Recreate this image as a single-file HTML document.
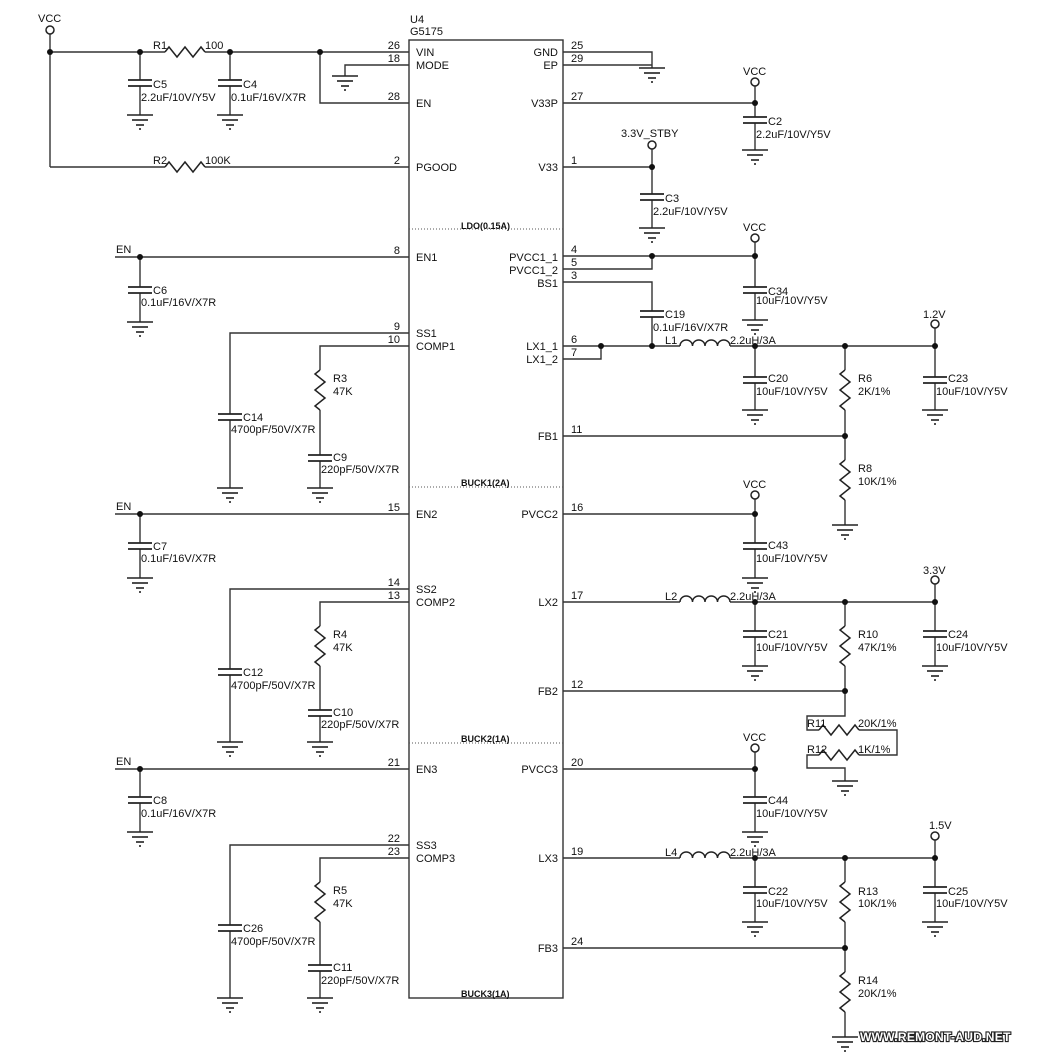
<!DOCTYPE html>
<html><head><meta charset="utf-8"><style>
html,body{margin:0;padding:0;background:#fff;}
svg{display:block;}
text{font-family:"Liberation Sans",Arial,sans-serif;font-size:11px;fill:#111;}
.b{font-weight:bold;font-size:9px;}
</style></head><body>
<svg width="1037" height="1052" viewBox="0 0 1037 1052" xmlns="http://www.w3.org/2000/svg">
<defs>
<g id="g" stroke="#222" stroke-width="1.6" fill="none"><line x1="-13" y1="0" x2="13" y2="0"/><line x1="-8" y1="5" x2="8" y2="5"/><line x1="-4" y1="10" x2="4" y2="10"/><line x1="-1" y1="14" x2="1" y2="14"/></g>
<g id="c"><rect x="-12" y="-3" width="24" height="6" fill="#fff"/><line x1="-12" y1="-3" x2="12" y2="-3" stroke="#222" stroke-width="1.8"/><line x1="-12" y1="3" x2="12" y2="3" stroke="#222" stroke-width="1.8"/></g>
<g id="rh"><rect x="-20" y="-6" width="40" height="12" fill="#fff"/><polyline points="-20,0 -16,-5 -8,5 0,-5 8,5 16,-5 20,0" fill="none" stroke="#222" stroke-width="1.5"/></g>
<g id="rv"><rect x="-6" y="-20" width="12" height="40" fill="#fff"/><polyline points="0,-20 -5,-16 5,-8 -5,0 5,8 -5,16 0,20" fill="none" stroke="#222" stroke-width="1.5"/></g>
<g id="l"><rect x="0" y="-8" width="50" height="10" fill="#fff"/><path d="M0,0 a6.25,6 0 0 1 12.5,0 a6.25,6 0 0 1 12.5,0 a6.25,6 0 0 1 12.5,0 a6.25,6 0 0 1 12.5,0" fill="none" stroke="#222" stroke-width="1.5"/></g>
<circle id="d" r="3" fill="#111"/>
<circle id="o" r="4" fill="#fff" stroke="#222" stroke-width="1.5"/>
</defs>

<g stroke="#333" stroke-width="1.4" fill="none">
<rect x="409" y="40" width="154" height="958"/>
</g>
<g stroke="#555" stroke-width="1" stroke-dasharray="1,2">
<line x1="409" y1="229" x2="563" y2="229"/><line x1="409" y1="487" x2="563" y2="487"/><line x1="409" y1="743" x2="563" y2="743"/>
</g>

<g stroke="#333" stroke-width="1.4" fill="none">
<line x1="50" y1="34" x2="50" y2="167"/>
<line x1="50" y1="52" x2="409" y2="52"/>
<line x1="50" y1="167" x2="409" y2="167"/>
<line x1="140" y1="52" x2="140" y2="115"/>
<line x1="230" y1="52" x2="230" y2="115"/>
<polyline points="320,52 320,103 409,103"/>
<polyline points="409,65 345,65 345,76"/>
<line x1="115" y1="257" x2="409" y2="257"/><line x1="140" y1="257" x2="140" y2="322"/>
<polyline points="409,333 230,333 230,488"/>
<polyline points="409,346 320,346 320,488"/>
<line x1="115" y1="514" x2="409" y2="514"/><line x1="140" y1="514" x2="140" y2="578"/>
<polyline points="409,589 230,589 230,742"/>
<polyline points="409,602 320,602 320,742"/>
<line x1="115" y1="769" x2="409" y2="769"/><line x1="140" y1="769" x2="140" y2="832"/>
<polyline points="409,845 230,845 230,998"/>
<polyline points="409,858 320,858 320,998"/>
<polyline points="563,52 652,52 652,68"/><line x1="563" y1="65" x2="652" y2="65"/>
<line x1="563" y1="103" x2="755" y2="103"/><line x1="755" y1="86" x2="755" y2="150"/>
<line x1="563" y1="167" x2="652" y2="167"/><line x1="652" y1="149" x2="652" y2="228"/>
<line x1="563" y1="256" x2="755" y2="256"/><polyline points="563,269 652,269 652,256"/>
<line x1="755" y1="242" x2="755" y2="320"/>
<polyline points="563,282 652,282 652,346"/>
<line x1="563" y1="346" x2="935" y2="346"/><polyline points="563,359 601,359 601,346"/>
<line x1="935" y1="328" x2="935" y2="410"/><line x1="755" y1="346" x2="755" y2="410"/>
<line x1="845" y1="346" x2="845" y2="525"/><line x1="563" y1="436" x2="845" y2="436"/>
<line x1="563" y1="514" x2="755" y2="514"/><line x1="755" y1="499" x2="755" y2="578"/>
<line x1="563" y1="602" x2="935" y2="602"/><line x1="935" y1="584" x2="935" y2="666"/>
<line x1="755" y1="602" x2="755" y2="666"/>
<polyline points="845,602 845,716 807,716 807,730 897,730 897,755 807,755 807,768 845,768 845,781"/>
<line x1="563" y1="691" x2="845" y2="691"/>
<line x1="563" y1="769" x2="755" y2="769"/><line x1="755" y1="752" x2="755" y2="832"/>
<line x1="563" y1="858" x2="935" y2="858"/><line x1="935" y1="840" x2="935" y2="922"/>
<line x1="755" y1="858" x2="755" y2="922"/>
<line x1="845" y1="858" x2="845" y2="1037"/><line x1="563" y1="948" x2="845" y2="948"/>
</g>

<use href="#rh" x="185" y="52"/><use href="#rh" x="185" y="167"/>
<use href="#c" x="140" y="83"/><use href="#c" x="230" y="83"/>
<use href="#c" x="755" y="120"/><use href="#c" x="652" y="197"/>
<use href="#c" x="755" y="290"/><use href="#c" x="652" y="314"/>
<use href="#c" x="755" y="380"/><use href="#c" x="935" y="380"/>
<use href="#rv" x="845" y="390"/><use href="#rv" x="845" y="480"/>
<use href="#l" x="680" y="346"/><use href="#l" x="680" y="602"/><use href="#l" x="680" y="858"/>
<use href="#c" x="755" y="546"/><use href="#c" x="755" y="634"/><use href="#c" x="935" y="634"/>
<use href="#rv" x="845" y="646"/>
<use href="#rh" x="839" y="730"/><use href="#rh" x="839" y="755"/>
<use href="#c" x="755" y="800"/><use href="#c" x="755" y="890"/><use href="#c" x="935" y="890"/>
<use href="#rv" x="845" y="902"/><use href="#rv" x="845" y="992"/>
<use href="#c" x="140" y="290"/><use href="#c" x="230" y="417"/><use href="#rv" x="320" y="390"/><use href="#c" x="320" y="458"/>
<use href="#c" x="140" y="546"/><use href="#c" x="230" y="672"/><use href="#rv" x="320" y="646"/><use href="#c" x="320" y="713"/>
<use href="#c" x="140" y="800"/><use href="#c" x="230" y="928"/><use href="#rv" x="320" y="902"/><use href="#c" x="320" y="968"/>

<use href="#g" x="140" y="115"/><use href="#g" x="230" y="115"/><use href="#g" x="345" y="76"/>
<use href="#g" x="652" y="68"/><use href="#g" x="755" y="150"/><use href="#g" x="652" y="228"/>
<use href="#g" x="755" y="320"/><use href="#g" x="755" y="410"/><use href="#g" x="935" y="410"/><use href="#g" x="845" y="525"/>
<use href="#g" x="140" y="322"/><use href="#g" x="230" y="488"/><use href="#g" x="320" y="488"/>
<use href="#g" x="140" y="578"/><use href="#g" x="230" y="742"/><use href="#g" x="320" y="742"/>
<use href="#g" x="755" y="578"/><use href="#g" x="755" y="666"/><use href="#g" x="935" y="666"/><use href="#g" x="845" y="781"/>
<use href="#g" x="140" y="832"/><use href="#g" x="230" y="998"/><use href="#g" x="320" y="998"/>
<use href="#g" x="755" y="832"/><use href="#g" x="755" y="922"/><use href="#g" x="935" y="922"/><use href="#g" x="845" y="1037"/>

<use href="#d" x="50" y="52"/><use href="#d" x="140" y="52"/><use href="#d" x="230" y="52"/><use href="#d" x="320" y="52"/>
<use href="#d" x="755" y="103"/><use href="#d" x="652" y="167"/><use href="#d" x="652" y="256"/><use href="#d" x="755" y="256"/>
<use href="#d" x="601" y="346"/><use href="#d" x="652" y="346"/><use href="#d" x="755" y="346"/><use href="#d" x="845" y="346"/><use href="#d" x="935" y="346"/><use href="#d" x="845" y="436"/>
<use href="#d" x="140" y="257"/><use href="#d" x="140" y="514"/><use href="#d" x="140" y="769"/>
<use href="#d" x="755" y="514"/><use href="#d" x="755" y="602"/><use href="#d" x="845" y="602"/><use href="#d" x="935" y="602"/><use href="#d" x="845" y="691"/>
<use href="#d" x="755" y="769"/><use href="#d" x="755" y="858"/><use href="#d" x="845" y="858"/><use href="#d" x="935" y="858"/><use href="#d" x="845" y="948"/>
<use href="#o" x="50" y="30"/><use href="#o" x="755" y="82"/><use href="#o" x="652" y="145"/><use href="#o" x="755" y="238"/><use href="#o" x="935" y="324"/>
<use href="#o" x="755" y="495"/><use href="#o" x="935" y="580"/><use href="#o" x="755" y="748"/><use href="#o" x="935" y="836"/>

<text x="38" y="22">VCC</text>
<text x="410" y="23">U4</text><text x="410" y="35">G5175</text>
<text x="153" y="49">R1</text><text x="205" y="49">100</text>
<text x="153" y="164">R2</text><text x="205" y="164">100K</text>
<text x="153" y="88">C5</text><text x="141" y="101">2.2uF/10V/Y5V</text>
<text x="243" y="88">C4</text><text x="231" y="101">0.1uF/16V/X7R</text>
<g text-anchor="end">
<text x="400" y="49">26</text><text x="400" y="62">18</text><text x="400" y="100">28</text><text x="400" y="164">2</text>
<text x="400" y="254">8</text><text x="400" y="330">9</text><text x="400" y="343">10</text>
<text x="400" y="511">15</text><text x="400" y="586">14</text><text x="400" y="599">13</text>
<text x="400" y="766">21</text><text x="400" y="842">22</text><text x="400" y="855">23</text>
<text x="558" y="56">GND</text><text x="558" y="69">EP</text><text x="558" y="107">V33P</text><text x="558" y="171">V33</text>
<text x="558" y="261">PVCC1_1</text><text x="558" y="274">PVCC1_2</text><text x="558" y="287">BS1</text>
<text x="558" y="350">LX1_1</text><text x="558" y="363">LX1_2</text><text x="558" y="440">FB1</text>
<text x="558" y="518">PVCC2</text><text x="558" y="606">LX2</text><text x="558" y="695">FB2</text>
<text x="558" y="773">PVCC3</text><text x="558" y="862">LX3</text><text x="558" y="952">FB3</text>
</g>
<text x="416" y="56">VIN</text><text x="416" y="69">MODE</text><text x="416" y="107">EN</text><text x="416" y="171">PGOOD</text>
<text x="416" y="261">EN1</text><text x="416" y="337">SS1</text><text x="416" y="350">COMP1</text>
<text x="416" y="518">EN2</text><text x="416" y="593">SS2</text><text x="416" y="606">COMP2</text>
<text x="416" y="773">EN3</text><text x="416" y="849">SS3</text><text x="416" y="862">COMP3</text>
<text x="571" y="49">25</text><text x="571" y="62">29</text><text x="571" y="100">27</text><text x="571" y="164">1</text>
<text x="571" y="253">4</text><text x="571" y="266">5</text><text x="571" y="279">3</text>
<text x="571" y="343">6</text><text x="571" y="356">7</text><text x="571" y="433">11</text>
<text x="571" y="511">16</text><text x="571" y="599">17</text><text x="571" y="688">12</text>
<text x="571" y="766">20</text><text x="571" y="855">19</text><text x="571" y="945">24</text>
<text class="b" x="461" y="229">LDO(0.15A)</text><text class="b" x="461" y="486">BUCK1(2A)</text>
<text class="b" x="461" y="742">BUCK2(1A)</text><text class="b" x="461" y="997">BUCK3(1A)</text>

<text x="743" y="75">VCC</text><text x="768" y="125">C2</text><text x="756" y="138">2.2uF/10V/Y5V</text>
<text x="621" y="137">3.3V_STBY</text><text x="665" y="202">C3</text><text x="653" y="215">2.2uF/10V/Y5V</text>
<text x="743" y="231">VCC</text><text x="768" y="295">C34</text><text x="756" y="304">10uF/10V/Y5V</text>
<text x="665" y="318">C19</text><text x="653" y="331">0.1uF/16V/X7R</text>
<text x="665" y="344">L1</text><text x="730" y="344">2.2uH/3A</text>
<text x="923" y="318">1.2V</text>
<text x="768" y="382">C20</text><text x="756" y="395">10uF/10V/Y5V</text>
<text x="858" y="382">R6</text><text x="858" y="395">2K/1%</text>
<text x="948" y="382">C23</text><text x="936" y="395">10uF/10V/Y5V</text>
<text x="858" y="472">R8</text><text x="858" y="485">10K/1%</text>
<text x="743" y="488">VCC</text><text x="768" y="549">C43</text><text x="756" y="562">10uF/10V/Y5V</text>
<text x="665" y="600">L2</text><text x="730" y="600">2.2uH/3A</text><text x="923" y="574">3.3V</text>
<text x="768" y="638">C21</text><text x="756" y="651">10uF/10V/Y5V</text>
<text x="858" y="638">R10</text><text x="858" y="651">47K/1%</text>
<text x="948" y="638">C24</text><text x="936" y="651">10uF/10V/Y5V</text>
<text x="807" y="727">R11</text><text x="858" y="727">20K/1%</text>
<text x="807" y="753">R12</text><text x="858" y="753">1K/1%</text>
<text x="743" y="741">VCC</text><text x="768" y="804">C44</text><text x="756" y="817">10uF/10V/Y5V</text>
<text x="665" y="856">L4</text><text x="730" y="856">2.2uH/3A</text><text x="929" y="829">1.5V</text>
<text x="768" y="895">C22</text><text x="756" y="907">10uF/10V/Y5V</text>
<text x="858" y="895">R13</text><text x="858" y="907">10K/1%</text>
<text x="948" y="895">C25</text><text x="936" y="907">10uF/10V/Y5V</text>
<text x="858" y="984">R14</text><text x="858" y="997">20K/1%</text>

<text x="116" y="253">EN</text><text x="153" y="294">C6</text><text x="141" y="306">0.1uF/16V/X7R</text>
<text x="243" y="421">C14</text><text x="231" y="433">4700pF/50V/X7R</text>
<text x="333" y="382">R3</text><text x="333" y="395">47K</text>
<text x="333" y="461">C9</text><text x="321" y="473">220pF/50V/X7R</text>
<text x="116" y="510">EN</text><text x="153" y="550">C7</text><text x="141" y="562">0.1uF/16V/X7R</text>
<text x="243" y="676">C12</text><text x="231" y="689">4700pF/50V/X7R</text>
<text x="333" y="638">R4</text><text x="333" y="651">47K</text>
<text x="333" y="716">C10</text><text x="321" y="728">220pF/50V/X7R</text>
<text x="116" y="765">EN</text><text x="153" y="804">C8</text><text x="141" y="817">0.1uF/16V/X7R</text>
<text x="243" y="932">C26</text><text x="231" y="945">4700pF/50V/X7R</text>
<text x="333" y="894">R5</text><text x="333" y="907">47K</text>
<text x="333" y="971">C11</text><text x="321" y="984">220pF/50V/X7R</text>

<text x="860" y="1041" style="font-weight:bold;font-size:12px;fill:#fff;stroke:#222;stroke-width:2.2;paint-order:stroke;letter-spacing:0.3px">WWW.REMONT-AUD.NET</text>
</svg>
</body></html>
